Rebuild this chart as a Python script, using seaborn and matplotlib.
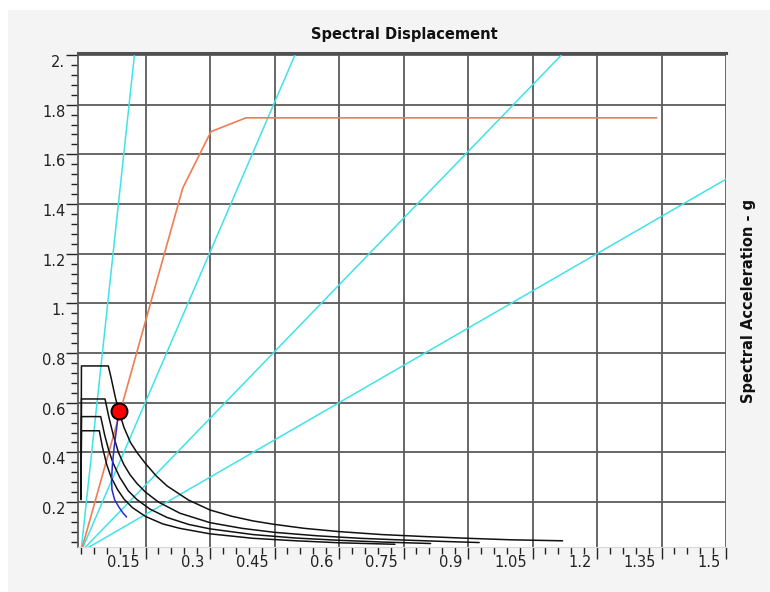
import numpy as np
import pandas as pd
import seaborn as sns
import matplotlib.pyplot as plt
from matplotlib.patches import Rectangle
from matplotlib.ticker import MultipleLocator
from matplotlib.transforms import ScaledTranslation

# tick values / labels
x_ticks = [0.15, 0.3, 0.45, 0.6, 0.75, 0.9, 1.05, 1.2, 1.35, 1.5]
x_labels = ["0.15", "0.3", "0.45", "0.6", "0.75", "0.9", "1.05", "1.2", "1.35", "1.5"]
y_ticks = [0.2, 0.4, 0.6, 0.8, 1.0, 1.2, 1.4, 1.6, 1.8, 2.0]
y_labels = ["0.2", "0.4", "0.6", "0.8", "1.", "1.2", "1.4", "1.6", "1.8", "2."]

# constant period lines (Sa / Sd slope)
period_slopes = [16.1, 4.02, 1.79, 1.0]

# capacity curve
cap_sd = [0.0, 0.2365, 0.3023, 0.3837, 1.3388]
cap_sa = [0.0, 1.4636, 1.6915, 1.747, 1.747]

# demand spectra
dA_sd = [0.0, 0.001, 0.0635, 0.07, 0.08, 0.09, 0.10, 0.115, 0.13, 0.15, 0.175, 0.20, 0.25, 0.30,
         0.35, 0.40, 0.45, 0.52, 0.60, 0.70, 0.80, 0.90, 1.00, 1.12]
dA_sa = [0.21, 0.748, 0.748, 0.70, 0.62, 0.555, 0.50, 0.44, 0.40, 0.355, 0.305, 0.265, 0.208, 0.168,
         0.143, 0.124, 0.11, 0.094, 0.081, 0.069, 0.061, 0.054, 0.048, 0.044]
dB_sd = [0.0, 0.001, 0.0558, 0.065, 0.075, 0.087, 0.10, 0.114, 0.13, 0.15, 0.18, 0.23, 0.30, 0.375,
         0.45, 0.55, 0.65, 0.75, 0.85, 0.926]
dB_sa = [0.21, 0.615, 0.615, 0.54, 0.47, 0.40, 0.35, 0.31, 0.275, 0.24, 0.20, 0.155, 0.117, 0.094,
         0.078, 0.064, 0.054, 0.047, 0.041, 0.037]
dC_sd = [0.0, 0.001, 0.0458, 0.055, 0.065, 0.075, 0.09, 0.11, 0.13, 0.16, 0.20, 0.25, 0.30, 0.40,
         0.50, 0.60, 0.70, 0.813]
dC_sa = [0.215, 0.544, 0.544, 0.47, 0.405, 0.355, 0.30, 0.245, 0.21, 0.172, 0.138, 0.11, 0.092, 0.069,
         0.055, 0.046, 0.039, 0.033]
dD_sd = [0.0, 0.001, 0.0426, 0.05, 0.06, 0.07, 0.085, 0.10, 0.12, 0.15, 0.19, 0.23, 0.30, 0.40,
         0.50, 0.60, 0.73]
dD_sa = [0.22, 0.487, 0.487, 0.42, 0.35, 0.30, 0.25, 0.212, 0.177, 0.142, 0.112, 0.094, 0.072, 0.054,
         0.044, 0.036, 0.030]

# single demand curve (blue)
blue_sd = [0.087, 0.083, 0.077, 0.073, 0.071, 0.072, 0.078, 0.088, 0.098, 0.106]
blue_sa = [0.56, 0.50, 0.42, 0.35, 0.29, 0.25, 0.21, 0.18, 0.155, 0.14]

# performance point
perf_sd = [0.089]
perf_sa = [0.568]

sns.set_style("white")
plt.rcParams['font.family'] = ['DejaVu Sans']

fig = plt.figure(figsize=(7.7, 5.92), dpi=100)
fig.patch.set_facecolor('white')
fig.patches.append(Rectangle((8 / 770, 0), 1, 1 - 10 / 592, transform=fig.transFigure,
                             facecolor='#f4f4f4', edgecolor='none', zorder=-10))
ax = fig.add_axes([78 / 770, 45 / 592, 648 / 770, 494 / 592])
ax.set_facecolor('white')

# period lines
for s in period_slopes:
    sns.lineplot(x=[0, 2.2], y=[0, 2.2 * s], color='#3fe3e8', lw=1.1, ax=ax, sort=False, estimator=None)

sns.lineplot(x=cap_sd, y=cap_sa, color='#ee7d55', lw=1.2, ax=ax, sort=False, estimator=None)

for sd, sa in [(dA_sd, dA_sa), (dB_sd, dB_sa), (dC_sd, dC_sa), (dD_sd, dD_sa)]:
    sns.lineplot(x=sd, y=sa, color='#111111', lw=1.1, ax=ax, sort=False, estimator=None)

sns.lineplot(x=blue_sd, y=blue_sa, color='#2a2ad0', lw=1.1, ax=ax, sort=False, estimator=None)

ax.plot(perf_sd, perf_sa, 'o', ms=11.5, mfc='#ff0000', mec='black', mew=1.4, zorder=10)

ax.set_xlim(-0.007, 1.5)
ax.set_ylim(0.019, 2.008)

ax.set_xticks(x_ticks)
ax.set_xticklabels(x_labels)
ax.set_yticks(y_ticks)
ax.set_yticklabels(y_labels)
ax.xaxis.set_minor_locator(MultipleLocator(0.03))
ax.yaxis.set_minor_locator(MultipleLocator(0.04))

ax.grid(True, which='major', color='#5a5a5a', lw=1.3)
ax.set_axisbelow(True)

ax.tick_params(which='major', direction='out', length=8.5, width=1, color='#222222',
               labelsize=10.5, labelcolor='#222222')
ax.tick_params(which='minor', direction='out', length=5, width=1, color='#222222')
ax.tick_params(axis='x', which='major', pad=-2.5)
ax.tick_params(axis='y', which='major', pad=0.5)
ax.tick_params(bottom=True, left=True, which='both')

shift = ScaledTranslation(-4 / 72, 0, fig.dpi_scale_trans)
for lab in ax.get_xticklabels():
    lab.set_ha('right')
    lab.set_transform(lab.get_transform() + shift)
for lab in ax.get_yticklabels():
    lab.set_va('top')

ax.spines['top'].set_color('#505050')
ax.spines['top'].set_linewidth(2.2)
ax.spines['left'].set_color('#5a5a5a')
ax.spines['left'].set_linewidth(1.3)
ax.spines['right'].set_visible(False)
ax.spines['bottom'].set_color('#d8d8d8')
ax.spines['bottom'].set_linewidth(0.8)
ax.set_xlabel('')
ax.set_ylabel('')

fig.text(404 / 770, 1 - 34 / 592, 'Spectral Displacement', ha='center', va='center',
         fontsize=10.5, fontweight='bold', color='#111111')
fig.text(749 / 770, 1 - 301 / 592, 'Spectral Acceleration - g', ha='center', va='center',
         rotation=90, fontsize=10.5, fontweight='bold', color='#111111')

fig.savefig('out.png', dpi=100)
